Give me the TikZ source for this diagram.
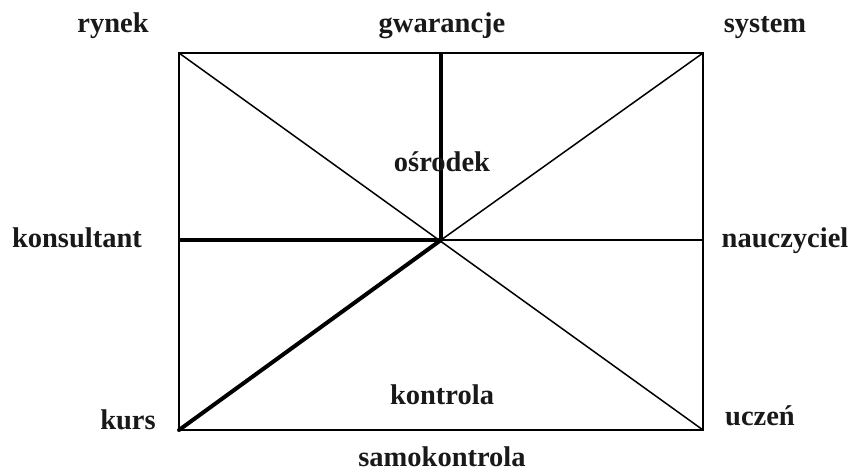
\documentclass[tikz,border=0pt]{standalone}
\usepackage{fontspec}
\setmainfont{Liberation Serif}
\begin{document}
\begin{tikzpicture}[x=1pt,y=-1pt,
  lbl/.style={font=\fontsize{28.5}{32}\selectfont\bfseries, anchor=base, inner sep=0pt, text=black!90},
  thinline/.style={line width=1.5pt},
  thickline/.style={line width=4pt},
  frame/.style={line width=2pt}]
\useasboundingbox (0,0) rectangle (858,471);
\coordinate (tl) at (179,53);
\coordinate (tr) at (703,53);
\coordinate (bl) at (179,430);
\coordinate (br) at (703,430);
\coordinate (c) at (441,240);
\coordinate (tm) at (441,53);
\coordinate (lm) at (179,240);
\coordinate (rm) at (703,240);
\draw[thinline] (tl) -- (br);
\draw[thinline] (tr) -- (c);
\draw[thinline] (c) -- (rm);
\draw[frame] (tl) rectangle (br);
\draw[thickline] (tm) -- (c);
\draw[thickline] (lm) -- (c);
\draw[thickline, line cap=round] (bl) -- (c);
\node[lbl] (rynek) at (113,32) {rynek};
\node[lbl] (gw) at (442,32) {gwarancje};
\node[lbl] (sys) at (765,32) {system};
\node[lbl] (kons) at (77,247) {konsultant};
\node[lbl] (nau) at (785,247) {nauczyciel};
\node[lbl] (kurs) at (128,429) {kurs};
\node[lbl] (ucz) at (760,425) {uczeń};
\node[lbl] (samo) at (442,466) {samokontrola};
\node[lbl] (osr) at (442,171) {ośrodek};
\node[lbl] (kontr) at (442,404) {kontrola};
\end{tikzpicture}
\end{document}
